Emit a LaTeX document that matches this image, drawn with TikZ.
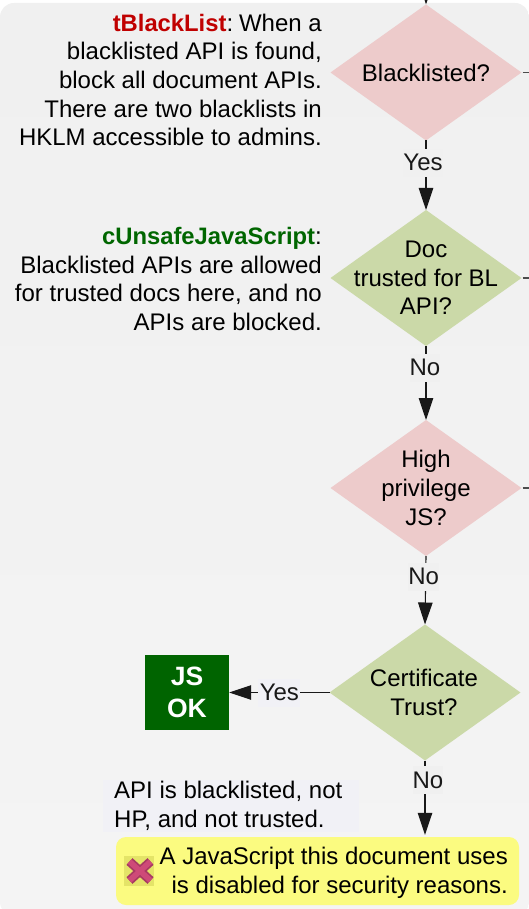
\documentclass[tikz,border=0pt]{standalone}
\usepackage{fontspec}
\setmainfont{Liberation Sans}
\usetikzlibrary{shapes.geometric,arrows.meta}
\definecolor{pinkd}{HTML}{EDCBCB}
\definecolor{greend}{HTML}{CBD9A8}
\definecolor{bgtop}{HTML}{F0F0F0}
\definecolor{bgbot}{HTML}{F4F4F4}
\definecolor{lav}{HTML}{F1F1F6}
\definecolor{yel}{HTML}{FBFB80}
\definecolor{redname}{HTML}{C00000}
\definecolor{greenname}{HTML}{006600}
\definecolor{okgreen}{HTML}{006400}
\definecolor{iconbg}{HTML}{E4E468}
\definecolor{xdark}{HTML}{A83A62}
\definecolor{xlight}{HTML}{CE4A78}
\newcommand{\body}{\fontsize{24}{28.7}\selectfont}
\newcommand{\optname}[2]{{\fontsize{23.8}{28.7}\selectfont\bfseries\textcolor{#1}{#2}}}
\tikzset{
  x=1pt,y=-1pt,
  dia/.style={shape=diamond,inner sep=0pt,outer sep=0pt,minimum width=191pt,minimum height=136pt},
  pinkdia/.style={dia,fill=pinkd},
  greendia/.style={dia,fill=greend},
  dtext/.style={font=\body,align=center,inner sep=0pt},
  side/.style={font=\body,align=right,inner sep=0pt,anchor=east},
  conn/.style={line width=1.1pt,black!90},
  arr/.style={conn,-{Triangle[length=22pt,width=14.5pt]}},
  lab/.style={font=\body,inner sep=0pt,minimum height=28pt,fill=bgtop},
  lablav/.style={lab,fill=lav,minimum width=42pt},
}
\begin{document}
\begin{tikzpicture}
\useasboundingbox (0,0) rectangle (529,909);
\shade[top color=bgtop,bottom color=bgbot,rounded corners=14pt] (0,3) rectangle (529,916);

\node[pinkdia,label={[dtext]center:Blacklisted?}] (d1) at (426,72.5) {};
\node[greendia,label={[dtext]center:Doc\\trusted for BL\\API?}] (d2) at (426,278) {};
\node[pinkdia,label={[dtext]center:High\\privilege\\JS?}] (d3) at (426,488) {};
\node[greendia,label={[dtext,xshift=-1pt]center:Certificate\\Trust?}] (d4) at (425,692.5) {};

\node[side] (t1) at (322,80) {\optname{redname}{tBlackList}:\kern-3pt{} When a\\blacklisted API is found,\\block all document APIs.\\There are two blacklists in\\HKLM accessible to admins.};
\node[side] (t2) at (322,279) {\optname{greenname}{cUnsafeJavaScript}:\\Blacklisted APIs are allowed\\for trusted docs here, and no\\APIs are blocked.};

\node[fill=okgreen,text=white,font=\bfseries\fontsize{26.5}{32}\selectfont,align=center,inner sep=0pt,minimum width=84pt,minimum height=75pt] (ok) at (187,692.5) {JS\\OK};

\node[fill=lav,inner sep=0pt,minimum width=256pt,minimum height=52pt] (note) at (231,806) {};
\node[font=\body,align=left,inner sep=0pt,anchor=west] (notetext) at (114,806) {API is blacklisted, not\\HP, and not trusted.};

\node[fill=yel,rounded corners=10pt,inner sep=0pt,minimum width=403pt,minimum height=68pt] (warn) at (317.5,871) {};
\node[font=\body,align=right,inner sep=0pt,anchor=east] (warntext) at (508,873) {A JavaScript this document uses\\is disabled for security reasons.};

\fill[iconbg] (124,856) rectangle (154,886);
\draw[xdark,line width=9pt] (129.5,861.5) -- (150.5,880.5) (150.5,861.5) -- (129.5,880.5);
\draw[xlight,line width=5.5pt] (129.5,861.5) -- (150.5,880.5) (150.5,861.5) -- (129.5,880.5);

\coordinate (top) at (426,-30);
\draw[arr] (top) -- (d1.north);
\draw[arr] (d1.south) -- node[lab,pos=.32,xshift=-3pt] (y1) {Yes} (d2.north);
\draw[arr] (d2.south) -- node[lab,pos=.293,xshift=-1pt] (n1) {No} (d3.north);
\draw[arr] (d3.south) -- node[lab,pos=.304,xshift=-2pt] (n2) {No} (d4.north);
\draw[arr,shorten >=2pt] (d4.south) -- node[lab,pos=.26,xshift=3pt] (n3) {No} (d4.south |- warn.north);
\draw[arr] (d4.west) -- node[lablav,pos=.5] (y2) {Yes} (ok.east);

\coordinate (r1) at (529,72.5);
\coordinate (r2) at (529,278);
\coordinate (r3) at (529,488);
\draw[conn,black!70] (d1.east) ++(1,0) -- (r1);
\draw[conn,black!70] (d2.east) ++(1,0) -- (r2);
\draw[conn,black!70] (d3.east) ++(1,0) -- (r3);
\end{tikzpicture}
\end{document}
